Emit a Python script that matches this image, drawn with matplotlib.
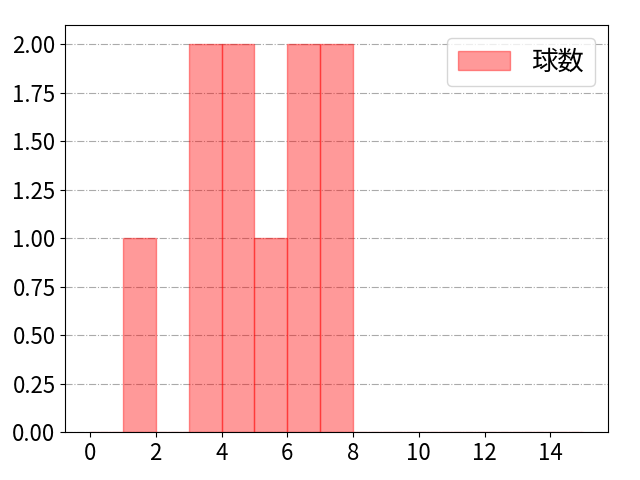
import matplotlib
matplotlib.use("Agg")
import matplotlib.pyplot as plt
import numpy as np

plt.rcParams['font.family'] = ['Noto Sans CJK JP', 'DejaVu Sans']
plt.rcParams['font.size'] = 16

bin_edges = list(range(0, 16))
bin_left = list(range(0, 15))
counts = [0, 1, 0, 2, 2, 1, 2, 2, 0, 0, 0, 0, 0, 0, 0]
label = "球数"

fig, ax = plt.subplots(figsize=(6.4, 4.8), dpi=100)
fig.subplots_adjust(left=0.102, right=0.95, top=0.948, bottom=0.1)
ax.hist([b + 0.5 for b in bin_left], bins=bin_edges, weights=counts,
        color='red', alpha=0.4, edgecolor='red', linewidth=1.0, label=label)
ax.yaxis.grid(True, linestyle='-.', color='#aaaaaa', linewidth=0.8)
ax.set_axisbelow(True)
yt = np.arange(0, 2.01, 0.25)
ax.set_yticks(yt)
ax.set_yticklabels([f"{v:.2f}" for v in yt])
ax.set_xticks(range(0, 15, 2))
ax.tick_params(labelsize=16)
ax.legend(loc='upper right', fontsize=19)
fig.savefig("out.png")
